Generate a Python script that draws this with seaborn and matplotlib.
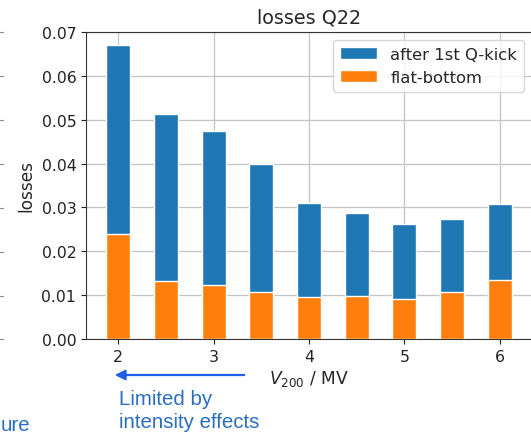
import matplotlib
matplotlib.use("Agg")
import matplotlib.pyplot as plt
import seaborn as sns
import pandas as pd
from matplotlib.lines import Line2D

voltage = [2.0, 2.5, 3.0, 3.5, 4.0, 4.5, 5.0, 5.5, 6.0]
after_qkick = [0.0670, 0.0512, 0.0474, 0.0398, 0.0310, 0.0288, 0.0262, 0.0274, 0.0307]
flat_bottom = [0.0240, 0.0133, 0.0122, 0.0108, 0.0095, 0.0097, 0.0091, 0.0107, 0.0135]
xticks = [2, 3, 4, 5, 6]
yticks = [0.00, 0.01, 0.02, 0.03, 0.04, 0.05, 0.06, 0.07]

sns.set_style("ticks")
plt.rcParams['font.family'] = ['DejaVu Sans']

df = pd.DataFrame({"V": voltage, "after": after_qkick, "flat": flat_bottom})

W, H = 531, 435
fig = plt.figure(figsize=(W / 100, H / 100), dpi=100)
ax = fig.add_axes([86 / W, (H - 340) / H, (532 - 86) / W, (340 - 33) / H])

sns.barplot(data=df, x="V", y="after", native_scale=True, width=0.5,
            color="#1f77b4", saturation=1, label="after 1st Q-kick", ax=ax, zorder=3)
sns.barplot(data=df, x="V", y="flat", native_scale=True, width=0.5,
            color="#ff7f0e", saturation=1, label="flat-bottom", ax=ax, zorder=3)

ax.set_xlim(1.6625, 6.3375)
ax.set_ylim(0, 0.07)
ax.set_xticks(xticks)
ax.set_xticklabels([str(t) for t in xticks], fontsize=11.3)
ax.set_yticks(yticks)
ax.set_yticklabels([f"{t:.2f}" for t in yticks], fontsize=11.3)
ax.grid(True, color="#c4c4c4", linewidth=0.9, zorder=0)
ax.set_axisbelow(True)
for s in ax.spines.values():
    s.set_color("#333333")
ax.tick_params(colors="#222222", length=3.5)

ax.set_title("losses Q22", fontsize=13.8, pad=7)
ax.set_ylabel("losses", fontsize=12.2, labelpad=4)
ax.set_xlabel(r"$V_{200}$ / MV", fontsize=12.3, labelpad=3)
ax.legend(loc="upper right", fontsize=11.8, framealpha=0.8, borderaxespad=0.5,
          handlelength=2.3)

# annotation below the axes
blue = "#2a6ebf"
fig.add_artist(matplotlib.patches.FancyArrowPatch(
    (247 / W, 1 - 376 / H), (112 / W, 1 - 376 / H), transform=fig.transFigure,
    arrowstyle="-|>,head_length=6,head_width=3", color="#1f5fe8", linewidth=1.6,
    mutation_scale=1))
fig.text(119 / W, 1 - 411 / H, "Limited by\nintensity effects", color=blue,
         fontsize=14.8, va="center", ha="left", linespacing=1.25,
         family=["Liberation Sans"])
fig.text(1 / W, 1 - 426 / H, "ure", color=blue, fontsize=14.8, va="center",
         ha="left", family=["Liberation Sans"])

# cut-off tick marks at left edge
for yp in [33, 77, 121, 165, 209, 253, 297, 340]:
    fig.add_artist(Line2D([0, 3 / W], [1 - yp / H, 1 - yp / H],
                          transform=fig.transFigure, color="#888888", linewidth=0.8))

fig.savefig("out.png", dpi=100)
